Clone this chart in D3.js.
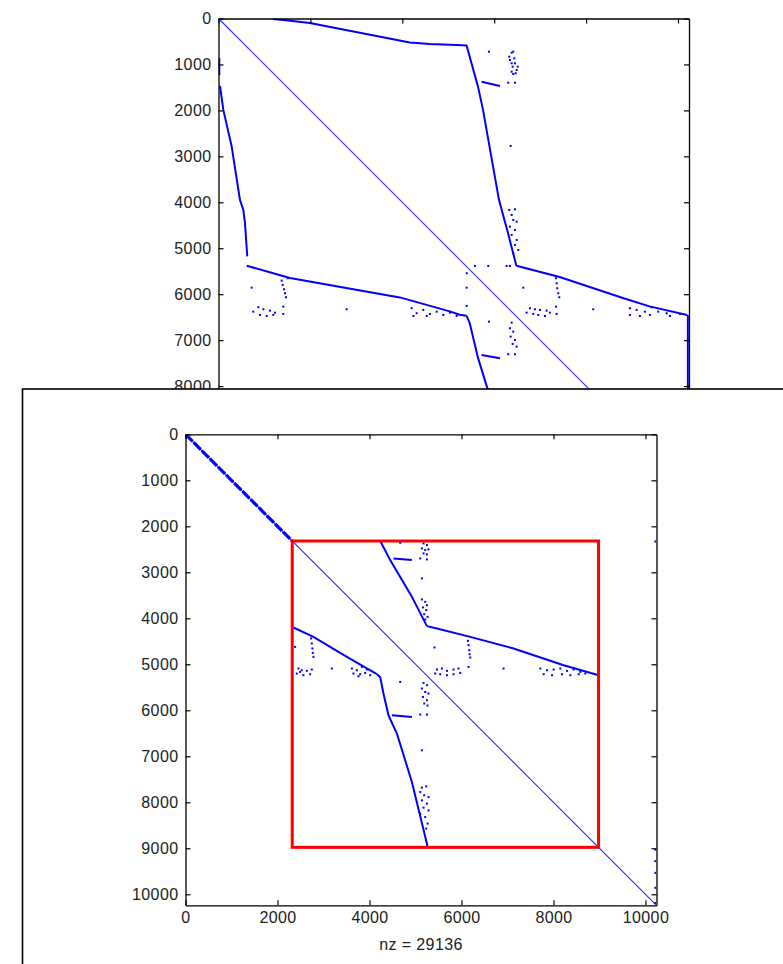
<!DOCTYPE html>
<html><head><meta charset="utf-8">
<script src="https://cdn.jsdelivr.net/npm/d3@7"></script>
<style>
body{margin:0;background:#fff}
text{font-family:"Liberation Sans",Arial,sans-serif;}
</style>
</head><body>
<svg id="c" width="783" height="964"></svg>
<script>
// ---------- data ----------
const N = 10240;            // matrix dimension (rows = columns)
const nz = 29136;
const yTicks = [0,1000,2000,3000,4000,5000,6000,7000,8000,9000,10000];
const xTicks = [0,2000,4000,6000,8000,10000];

// original ordering: dense bands as [column,row] vertices
const topBands = [
  [[1185,11],[1511,43],[1989,98],[4163,522],[4598,554],[5185,576],[5402,587]],
  [[5396,576],[5648,1483],[5757,1989],[6104,3946],[6300,4670],[6483,5380]],
  [[6483,5380],[7424,5626],[8800,6083],[9380,6265],[10200,6452]],
  [[10215,6452],[10215,10240]],
  [[17,867],[17,1228]],
  [[33,1467],[105,1989],[287,2787],[467,3946],[540,4163],[576,4453],[626,5178]],
  [[613,5380],[1554,5648],[3946,6070],[5033,6374],[5250,6446],[5396,6467]],
  [[5396,6467],[5467,6626],[5648,7387],[6083,8800],[6265,9380],[6452,10240]],
  [[5727,1375],[6125,1469]],
  [[5727,7322],[6125,7394]]
];
// isolated nonzeros [column,row]
const topDots = [
  [5886,722],[6380,744],[6415,722],[6328,831],[6343,903],[6437,866],[6380,975],[6452,975],
  [6402,1049],[6511,1049],[6489,1121],[6380,1158],[6415,1208],[6467,1192],
  [6306,1397],[6452,1397],[6358,2774],
  [6328,4167],[6380,4276],[6452,4152],[6415,4385],[6489,4422],[6343,4530],[6452,4602],
  [6380,4711],[6489,4820],[6452,4929],[6524,5037],[6415,5110],
  [5581,5385],[5871,5385],[6271,5385],[6343,5385],
  [5401,5545],[5401,5858],[5401,6256],
  [6633,5858],[7344,6271],[8156,6328],
  [7344,5653],[7359,5762],[7372,5871],[7394,5980],[7416,6067],
  [6778,6306],[6887,6328],[6996,6343],[7141,6358],[6706,6402],[6851,6430],[6960,6452],
  [7105,6474],[7213,6402],[7359,6430],
  [8954,6306],[9100,6343],[9281,6380],[9427,6284],[9570,6380],[9753,6415],[8954,6452],
  [9172,6474],[9390,6452],[9825,6474],[10042,6430],
  [757,6380],[866,6284],[977,6328],[1121,6358],[1229,6402],[903,6452],[1049,6474],[1192,6452],
  [722,5858],[1410,6271],[1410,6430],[2790,6328],
  [1375,5705],[1397,5799],[1425,5893],[1447,5980],[1469,6067],[1505,5653],
  [4204,6306],[4313,6415],[4457,6343],[4602,6430],[4748,6380],[4892,6452],[5037,6402],
  [5183,6474],[4241,6474],[4531,6474],
  [6380,6619],[6343,6741],[6415,6815],[6358,6924],[6452,6996],[6402,7083],[6489,7141],
  [6306,7307],[6452,7307],[5886,6597]
];

// reordered matrix
const denseDiagEnd = 2330;
const bottomBands = [
  [[4232,2315],[4450,2735],[4922,3534],[5249,4171]],
  [[5249,4171],[5466,4221],[6191,4404],[7133,4657],[8221,5020],[8983,5238]],
  [[2346,4200],[2781,4404],[3508,4839],[4161,5216]],
  [[4161,5216],[4232,5275],[4304,5636],[4413,6108],[4596,6506],[4922,7559],[5249,8900],[5260,8970]],
  [[4522,2698],[4922,2735]],
  [[4487,6108],[4922,6145]]
];
const bottomDots = [
  [4668,2359],[5175,2372],[5249,2409],[5140,2481],[5212,2517],[5283,2502],[5175,2590],[5249,2611],
  [5103,2698],[5249,2720],[5140,3133],
  [5140,3590],[5212,3643],[5249,3715],[5162,3764],[5234,3823],[5190,3910],[5262,3969],[5212,4026],
  [2383,4622],[2731,4439],[2746,4548],[2759,4657],[2768,4752],[2781,4839],
  [2455,5092],[2528,5129],[2637,5143],[2746,5114],[2420,5201],[2563,5238],[2709,5216],[2492,5166],
  [3181,5092],
  [3617,5092],[3725,5129],[3834,5057],[3943,5114],[3651,5201],[3797,5216],[3906,5188],[4015,5238],[3761,5260],
  [5414,4635],[6141,4491],[6154,4585],[6169,4694],[6176,4781],[6191,4853],[6154,5057],
  [5466,5114],[5575,5092],[5684,5143],[5827,5114],[5936,5092],[5429,5201],[5538,5216],[5684,5238],
  [5827,5216],[5973,5188],[6915,5092],
  [7714,5092],[7860,5129],[8003,5114],[8149,5092],[8295,5143],[8438,5114],[8584,5166],[7786,5216],
  [7969,5238],[8186,5216],[8367,5238],[8548,5216],[8693,5201],
  [4668,5383],[5175,5405],[5249,5455],[5140,5527],[5212,5601],[5283,5636],[5162,5710],[5249,5781],
  [5190,5853],[5262,5897],[5103,6093],[5249,6093],
  [5140,6870],[5140,7681],[5233,7653],[5103,7777],[5190,7849],[5284,7886],[5140,7958],[5249,8030],
  [5175,8117],[5284,8176],[5103,8248],[5212,8321],[5262,8464],[5233,8573],
  [10215,2330],[10215,9030],[10215,9280],[10215,9535],[10215,9860],[10215,10190]
];
const boxRange = [2320, 8980];

// ---------- drawing ----------
const svg = d3.select("#c");
svg.append("rect").attr("width",783).attr("height",964).attr("fill","#fff");
const fmt = d3.format("d");
const windowTop = 389;   // top edge of the overlapping lower window

function panel(id, left, top, size, bands, dots, opts) {
  const g = svg.append("g");
  const x = d3.scaleLinear().domain([0,N]).range([left,left+size]);
  const y = d3.scaleLinear().domain([0,N]).range([top,top+size]);
  g.append("clipPath").attr("id",id).append("rect")
    .attr("x",left).attr("y",top).attr("width",size).attr("height",size);
  const plot = g.append("g").attr("clip-path",`url(#${id})`);
  const line = d3.line().x(d=>x(d[0])).y(d=>y(d[1]));
  plot.append("path").attr("d",line([[0,0],[N,N]]))
    .attr("fill","none").attr("stroke","#2a2aff").attr("stroke-width",1.1);
  if (opts.extra) opts.extra(plot, x, y, line);
  plot.selectAll("path.band").data(bands).join("path").attr("class","band")
    .attr("d",line).attr("fill","none").attr("stroke","#0000ff")
    .attr("stroke-width",2).attr("stroke-linejoin","round");
  plot.selectAll("rect.dot").data(dots).join("rect").attr("class","dot")
    .attr("x",d=>x(d[0])-1).attr("y",d=>y(d[1])-1).attr("width",2).attr("height",2)
    .attr("fill","#0000ff");

  const style = a => {
    a.select(".domain").attr("stroke","#000").attr("stroke-width",1.3);
    a.selectAll(".tick line").attr("stroke","#000").attr("stroke-width",1.2);
    a.selectAll(".tick text").attr("font-size",16).attr("fill","#222")
      .attr("letter-spacing","0.4px")
      .attr("font-family","'Liberation Sans',Arial,sans-serif");
  };
  const yVals = opts.maxY ? yTicks.filter(v => y(v) <= opts.maxY) : yTicks;
  if (!opts.hideBottom) {
    g.append("g").attr("transform",`translate(0,${top+size})`)
      .call(d3.axisBottom(x).tickValues(xTicks).tickFormat(fmt).tickSize(-5).tickSizeOuter(0).tickPadding(6))
      .call(style);
  }
  g.append("g").attr("transform",`translate(0,${top})`)
    .call(d3.axisTop(x).tickValues(xTicks).tickSize(-5).tickSizeOuter(0).tickFormat(""))
    .call(style);
  g.append("g").attr("transform",`translate(${left},0)`)
    .call(d3.axisLeft(y).tickValues(yVals).tickFormat(fmt).tickSize(-5).tickSizeOuter(0).tickPadding(7))
    .call(style);
  g.append("g").attr("transform",`translate(${left+size},0)`)
    .call(d3.axisRight(y).tickValues(yVals).tickSize(-5).tickSizeOuter(0).tickFormat(""))
    .call(style);
  return {g,x,y};
}

// top panel (original ordering) – its lower part is hidden behind the second window
panel("clipTop", 218.5, 18.5, 470.5, topBands, topDots, {maxY: windowTop, hideBottom: true});

// overlapping lower figure window
svg.append("rect").attr("x",22.5).attr("y",windowTop).attr("width",800).attr("height",600)
  .attr("fill","#fff").attr("stroke","#000").attr("stroke-width",1.6);

// bottom panel (reordered)
const bot = panel("clipBot", 185.5, 434.3, 471, bottomBands, bottomDots, {extra: (plot,x,y,line)=>{
  plot.append("path").attr("d",line([[0,0],[denseDiagEnd,denseDiagEnd]]))
    .attr("fill","none").attr("stroke","#0000ff").attr("stroke-width",3.2)
    .attr("stroke-dasharray","10,1.5");
}});
bot.g.append("rect")
  .attr("x",bot.x(boxRange[0])).attr("y",bot.y(boxRange[0]))
  .attr("width",bot.x(boxRange[1])-bot.x(boxRange[0]))
  .attr("height",bot.y(boxRange[1])-bot.y(boxRange[0]))
  .attr("fill","none").attr("stroke","#ff0000").attr("stroke-width",3);
bot.g.append("text").attr("x",(bot.x(0)+bot.x(N))/2).attr("y",950)
  .attr("text-anchor","middle").attr("font-size",16).attr("fill","#222")
  .attr("letter-spacing","0.4px")
  .text("nz = " + nz);
</script>
</body></html>
